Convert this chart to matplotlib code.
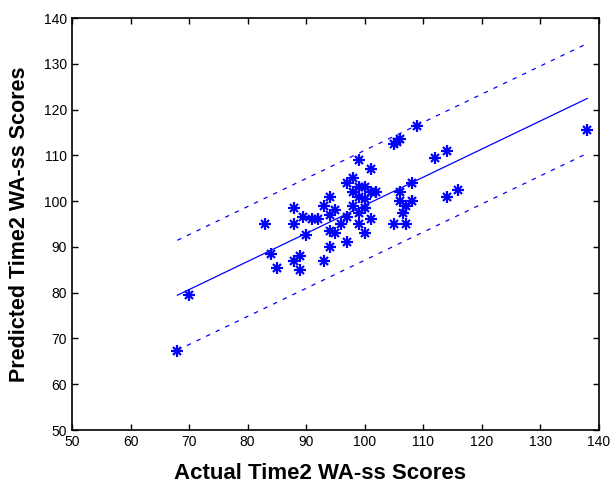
import matplotlib
matplotlib.use("Agg")
import matplotlib.pyplot as plt
import numpy as np

# Data
actual = [68, 70, 83, 84, 85, 88, 88, 88, 89, 89, 89.5, 90, 91, 92, 93, 93,
          94, 94, 94, 94, 95, 95, 96, 97, 97, 97, 98, 98, 98, 99, 99, 99, 99, 99,
          100, 100, 100, 100, 101, 101, 101, 102, 105, 105.5, 106, 105, 106, 106,
          106.5, 107, 107, 108, 108, 109, 112, 114, 114, 116, 138]
predicted = [67.3, 79.5, 95, 88.5, 85.5, 98.5, 95, 87, 88, 85, 96.5, 92.5, 96, 96, 99, 87,
             101, 97, 93.5, 90, 98, 93, 95, 104, 96.5, 91, 105, 102, 99, 109, 103, 101, 97.5, 95,
             103, 100.5, 98.5, 93, 107, 102, 96, 102, 112.5, 113, 113.5, 95, 102, 100,
             97.5, 95, 99, 100, 104, 116.5, 109.5, 111, 101, 102.5, 115.5]

# Regression line parameters and prediction band half-width
fit_slope = 0.614
fit_intercept = 37.7
band_half = 12.0

xticks = list(range(50, 141, 10))
yticks = list(range(50, 141, 10))

fig = plt.figure(figsize=(6.12, 4.91), dpi=100)
ax = fig.add_axes([0.1176, 0.1242, 0.861, 0.839])

blue = "#0000ff"
# plus arms plus shorter diagonal arms to mimic the MATLAB asterisk
ax.plot(actual, predicted, linestyle="none", marker="+", markersize=9,
        markeredgewidth=1.6, color=blue)
ax.plot(actual, predicted, linestyle="none", marker="x", markersize=5.5,
        markeredgewidth=1.6, color=blue)

xs = np.array([min(actual), max(actual)])
fit = fit_slope * xs + fit_intercept
ax.plot(xs, fit, color=blue, linewidth=0.9)
ax.plot(xs, fit + band_half, color=blue, linewidth=0.9, linestyle=(0, (3.5, 5)))
ax.plot(xs, fit - band_half, color=blue, linewidth=0.9, linestyle=(0, (3.5, 5)))

ax.set_xlim(50, 140)
ax.set_ylim(50, 140)
ax.set_xticks(xticks)
ax.set_yticks(yticks)
ax.tick_params(direction="in", top=True, right=True, length=4, width=1,
               labelsize=10)
for lab in ax.get_xticklabels() + ax.get_yticklabels():
    lab.set_family("Liberation Sans")
for s in ax.spines.values():
    s.set_linewidth(1.2)

ax.set_xlabel("Actual Time2 WA-ss Scores", fontsize=16, fontweight="bold",
              family="Liberation Sans")
ax.xaxis.set_label_coords(0.47, -0.08)
ax.set_ylabel("Predicted Time2 WA-ss Scores", fontsize=15.5, fontweight="bold",
              family="Liberation Sans", labelpad=10)

fig.savefig("out.png", dpi=100)
